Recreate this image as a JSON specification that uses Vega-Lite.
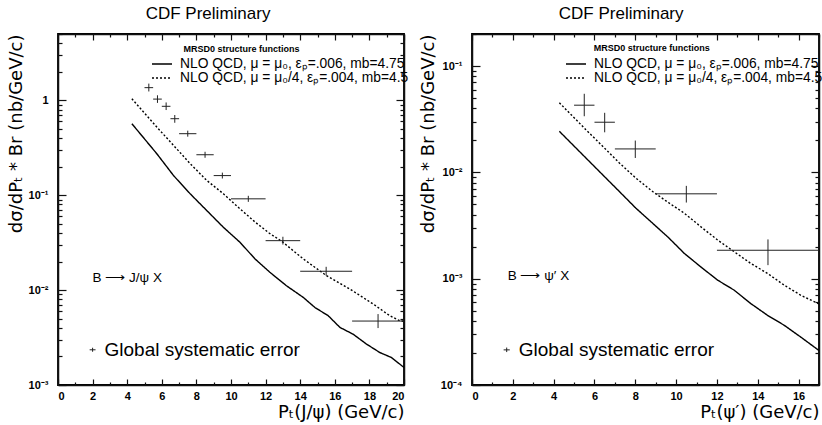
{
  "$schema": "https://vega.github.io/schema/vega-lite/v6.json",
  "padding": {"left": 6, "top": 4, "right": 0, "bottom": 0},
  "bounds": "flush",
  "spacing": 68,
  "resolve": {"scale": {"strokeDash": "independent"}, "legend": {"strokeDash": "independent"}},
  "config": {
    "font": "Liberation Sans",
    "view": {"stroke": "black", "strokeWidth": 1.8},
    "axis": {"grid": false, "labelColor": "black", "titleColor": "black", "labelFont": "Liberation Sans", "labelFontWeight": "bold", "labelFontSize": 11, "titleFont": "DejaVu Sans", "titleFontWeight": "normal", "titleFontSize": 18},
    "title": {"fontSize": 17, "fontWeight": "normal", "color": "black", "offset": 10, "anchor": "middle", "frame": "bounds", "font": "Liberation Sans"},
    "legend": {"orient": "none", "title": null, "symbolType": "stroke", "symbolSize": 400, "symbolStrokeWidth": 1.4, "symbolStrokeColor": "black", "labelFontSize": 13.8, "labelFont": "Liberation Sans", "labelColor": "black", "labelOffset": 7, "labelLimit": 400, "clipHeight": 14, "rowPadding": 0, "padding": 0}
  },
  "datasets": {
    "jpsi_curves": [
      {"model": "mu0", "pt": 4.27, "xsec": 0.567}, {"model": "mu0", "pt": 5.71, "xsec": 0.274}, {"model": "mu0", "pt": 6.68, "xsec": 0.161}, {"model": "mu0", "pt": 7.64, "xsec": 0.1035}, {"model": "mu0", "pt": 8.6, "xsec": 0.0689}, {"model": "mu0", "pt": 9.56, "xsec": 0.0459}, {"model": "mu0", "pt": 10.52, "xsec": 0.0319}, {"model": "mu0", "pt": 11.39, "xsec": 0.0213}, {"model": "mu0", "pt": 12.25, "xsec": 0.0154}, {"model": "mu0", "pt": 13.21, "xsec": 0.0111}, {"model": "mu0", "pt": 14.18, "xsec": 0.00837}, {"model": "mu0", "pt": 14.85, "xsec": 0.00656}, {"model": "mu0", "pt": 15.62, "xsec": 0.00537}, {"model": "mu0", "pt": 16.3, "xsec": 0.00404}, {"model": "mu0", "pt": 17.06, "xsec": 0.00343}, {"model": "mu0", "pt": 17.83, "xsec": 0.0027}, {"model": "mu0", "pt": 18.6, "xsec": 0.0022}, {"model": "mu0", "pt": 19.27, "xsec": 0.00195}, {"model": "mu0", "pt": 20, "xsec": 0.00153},
      {"model": "mu0/4", "pt": 4.27, "xsec": 1.04}, {"model": "mu0/4", "pt": 5.71, "xsec": 0.523}, {"model": "mu0/4", "pt": 6.68, "xsec": 0.335}, {"model": "mu0/4", "pt": 7.64, "xsec": 0.215}, {"model": "mu0/4", "pt": 8.6, "xsec": 0.143}, {"model": "mu0/4", "pt": 9.56, "xsec": 0.1035}, {"model": "mu0/4", "pt": 10.52, "xsec": 0.0718}, {"model": "mu0/4", "pt": 11.4, "xsec": 0.052}, {"model": "mu0/4", "pt": 12.2, "xsec": 0.04}, {"model": "mu0/4", "pt": 12.98, "xsec": 0.0322}, {"model": "mu0/4", "pt": 14.18, "xsec": 0.0213}, {"model": "mu0/4", "pt": 15.52, "xsec": 0.0142}, {"model": "mu0/4", "pt": 16.87, "xsec": 0.01027}, {"model": "mu0/4", "pt": 18.22, "xsec": 0.00713}, {"model": "mu0/4", "pt": 19.18, "xsec": 0.00537}, {"model": "mu0/4", "pt": 19.76, "xsec": 0.00475}, {"model": "mu0/4", "pt": 20, "xsec": 0.0047}
    ],
    "jpsi_points": [
      {"x": 5.25, "xlo": 5.0, "xhi": 5.5, "y": 1.36, "ylo": 1.24, "yhi": 1.5},
      {"x": 5.75, "xlo": 5.5, "xhi": 6.0, "y": 1.03, "ylo": 0.94, "yhi": 1.13},
      {"x": 6.25, "xlo": 6.0, "xhi": 6.5, "y": 0.865, "ylo": 0.79, "yhi": 0.95},
      {"x": 6.75, "xlo": 6.5, "xhi": 7.0, "y": 0.64, "ylo": 0.58, "yhi": 0.7},
      {"x": 7.5, "xlo": 7.0, "xhi": 8.0, "y": 0.445, "ylo": 0.414, "yhi": 0.479},
      {"x": 8.5, "xlo": 8.0, "xhi": 9.0, "y": 0.267, "ylo": 0.248, "yhi": 0.287},
      {"x": 9.5, "xlo": 9.0, "xhi": 10.0, "y": 0.161, "ylo": 0.15, "yhi": 0.173},
      {"x": 11.0, "xlo": 10.0, "xhi": 12.0, "y": 0.0916, "ylo": 0.0851, "yhi": 0.0986},
      {"x": 13.0, "xlo": 12.0, "xhi": 14.0, "y": 0.0332, "ylo": 0.0302, "yhi": 0.0365},
      {"x": 15.5, "xlo": 14.0, "xhi": 17.0, "y": 0.0158, "ylo": 0.0142, "yhi": 0.0176},
      {"x": 18.5, "xlo": 17.0, "xhi": 20.0, "y": 0.00472, "ylo": 0.00398, "yhi": 0.00559},
      {"x": 2.0, "xlo": 1.83, "xhi": 2.17, "y": 0.00235, "ylo": 0.00224, "yhi": 0.00247}
    ],
    "jpsi_text": [
      {"kind": "label", "x": 2.0, "y": 0.0135, "text": "B ⟶ J/ψ X"},
      {"kind": "sys", "x": 2.69, "y": 0.00235, "text": "Global systematic error"},
      {"kind": "header", "x": 7.25, "y": 3.45, "text": "MRSD0 structure functions"}
    ],
    "psi_curves": [
      {"model": "mu0", "pt": 4.28, "xsec": 0.0243}, {"model": "mu0", "pt": 5.58, "xsec": 0.01365}, {"model": "mu0", "pt": 6.4, "xsec": 0.00949}, {"model": "mu0", "pt": 7.22, "xsec": 0.0066}, {"model": "mu0", "pt": 8.03, "xsec": 0.0046}, {"model": "mu0", "pt": 8.85, "xsec": 0.00332}, {"model": "mu0", "pt": 9.62, "xsec": 0.00244}, {"model": "mu0", "pt": 10.4, "xsec": 0.00173}, {"model": "mu0", "pt": 11.21, "xsec": 0.00129}, {"model": "mu0", "pt": 12.03, "xsec": 0.00097}, {"model": "mu0", "pt": 12.85, "xsec": 0.000778}, {"model": "mu0", "pt": 13.66, "xsec": 0.000583}, {"model": "mu0", "pt": 14.48, "xsec": 0.000452}, {"model": "mu0", "pt": 15.3, "xsec": 0.000364}, {"model": "mu0", "pt": 16.11, "xsec": 0.000282}, {"model": "mu0", "pt": 17, "xsec": 0.000211},
      {"model": "mu0/4", "pt": 4.28, "xsec": 0.0451}, {"model": "mu0/4", "pt": 5.58, "xsec": 0.0252}, {"model": "mu0/4", "pt": 6.4, "xsec": 0.0176}, {"model": "mu0/4", "pt": 7.22, "xsec": 0.01225}, {"model": "mu0/4", "pt": 8.03, "xsec": 0.00883}, {"model": "mu0/4", "pt": 8.85, "xsec": 0.0066}, {"model": "mu0/4", "pt": 9.62, "xsec": 0.0052}, {"model": "mu0/4", "pt": 10.4, "xsec": 0.00413}, {"model": "mu0/4", "pt": 11.21, "xsec": 0.00308}, {"model": "mu0/4", "pt": 12.03, "xsec": 0.00231}, {"model": "mu0/4", "pt": 12.85, "xsec": 0.00179}, {"model": "mu0/4", "pt": 13.66, "xsec": 0.00139}, {"model": "mu0/4", "pt": 14.48, "xsec": 0.00112}, {"model": "mu0/4", "pt": 15.3, "xsec": 0.000868}, {"model": "mu0/4", "pt": 16.11, "xsec": 0.000698}, {"model": "mu0/4", "pt": 17, "xsec": 0.000578}
    ],
    "psi_points": [
      {"x": 5.5, "xlo": 5.0, "xhi": 6.0, "y": 0.0428, "ylo": 0.0337, "yhi": 0.0548},
      {"x": 6.5, "xlo": 6.0, "xhi": 7.0, "y": 0.0296, "ylo": 0.0238, "yhi": 0.0363},
      {"x": 8.0, "xlo": 7.0, "xhi": 9.0, "y": 0.0166, "ylo": 0.01365, "yhi": 0.0199},
      {"x": 10.5, "xlo": 9.0, "xhi": 12.0, "y": 0.00628, "ylo": 0.0052, "yhi": 0.00746},
      {"x": 14.5, "xlo": 12.0, "xhi": 17.0, "y": 0.00185, "ylo": 0.00134, "yhi": 0.00234},
      {"x": 1.7, "xlo": 1.55, "xhi": 1.85, "y": 0.000214, "ylo": 0.000204, "yhi": 0.000225}
    ],
    "psi_text": [
      {"kind": "label", "x": 1.75, "y": 0.00105, "text": "B ⟶ ψ′ X"},
      {"kind": "sys", "x": 2.29, "y": 0.000214, "text": "Global systematic error"},
      {"kind": "header", "x": 5.96, "y": 0.147, "text": "MRSD0 structure functions"}
    ]
  },
  "hconcat": [
    {
      "title": "CDF Preliminary",
      "width": 346,
      "height": 351,
      "resolve": {"axis": {"x": "independent", "y": "independent"}},
      "layer": [
        {
          "data": {"name": "jpsi_curves"},
          "mark": {"type": "line", "color": "black", "strokeWidth": 1.4, "clip": true},
          "encoding": {
            "x": {"field": "pt", "type": "quantitative", "scale": {"domain": [0, 20], "nice": false, "zero": false},
              "axis": {"orient": "bottom", "domainColor": "#111111", "domainWidth": 1.5, "tickColor": "#111111", "tickWidth": 1.2, "values": [0,1,2,3,4,5,6,7,8,9,10,11,12,13,14,15,16,17,18,19,20], "labelExpr": "datum.value % 2 == 0 ? datum.label : ''", "tickSize": {"condition": {"test": "datum.value % 2 == 0", "value": -6}, "value": -3}, "labelPadding": 11, "title": "Pₜ(J/ψ) (GeV/c)", "titleAnchor": "end", "titlePadding": 2}},
            "y": {"field": "xsec", "type": "quantitative", "scale": {"type": "log", "domain": [0.001, 5], "nice": false},
              "axis": {"orient": "left", "domainColor": "#111111", "domainWidth": 1.5, "tickColor": "#111111", "tickWidth": 1.2, "values": [0.001,0.002,0.003,0.004,0.005,0.006,0.007,0.008,0.009,0.01,0.02,0.03,0.04,0.05,0.06,0.07,0.08,0.09,0.1,0.2,0.3,0.4,0.5,0.6,0.7,0.8,0.9,1,2,3,4,5], "labelExpr": "datum.value == 1 ? '1' : datum.value == 0.1 ? '10⁻¹' : datum.value == 0.01 ? '10⁻²' : datum.value == 0.001 ? '10⁻³' : ''", "tickSize": {"condition": {"test": "indexof([0.001,0.01,0.1,1], datum.value) >= 0", "value": -8}, "value": -4}, "labelPadding": 18, "title": "dσ/dPₜ * Br (nb/GeV/c)", "titleAnchor": "end", "titlePadding": 3}},
            "strokeDash": {"field": "model", "type": "nominal", "scale": {"domain": ["mu0", "mu0/4"], "range": [[1, 0], [2, 2]]},
              "legend": {"legendX": 93, "legendY": 23, "labelExpr": "datum.value == 'mu0' ? 'NLO QCD, μ = μ₀, εₚ=.006, mb=4.75' : 'NLO QCD, μ = μ₀/4, εₚ=.004, mb=4.5'"}}
          }
        },
        {
          "data": {"name": "jpsi_points"},
          "mark": {"type": "rule", "color": "#222", "strokeWidth": 1},
          "encoding": {
            "x": {"field": "xlo", "type": "quantitative", "scale": {"domain": [0, 20], "nice": false, "zero": false},
              "axis": {"orient": "top", "domainColor": "#111111", "domainWidth": 1.5, "tickColor": "#111111", "tickWidth": 1.2, "values": [0,1,2,3,4,5,6,7,8,9,10,11,12,13,14,15,16,17,18,19,20], "labels": false, "title": null, "tickSize": {"condition": {"test": "datum.value % 2 == 0", "value": -6}, "value": -3}}},
            "x2": {"field": "xhi"},
            "y": {"field": "y", "type": "quantitative", "scale": {"type": "log", "domain": [0.001, 5], "nice": false},
              "axis": {"orient": "right", "domainColor": "#111111", "domainWidth": 1.5, "tickColor": "#111111", "tickWidth": 1.2, "values": [0.001,0.002,0.003,0.004,0.005,0.006,0.007,0.008,0.009,0.01,0.02,0.03,0.04,0.05,0.06,0.07,0.08,0.09,0.1,0.2,0.3,0.4,0.5,0.6,0.7,0.8,0.9,1,2,3,4,5], "labels": false, "title": null, "tickSize": {"condition": {"test": "indexof([0.001,0.01,0.1,1], datum.value) >= 0", "value": -8}, "value": -4}}}
          }
        },
        {
          "data": {"name": "jpsi_points"},
          "mark": {"type": "rule", "color": "#222", "strokeWidth": 1},
          "encoding": {
            "x": {"field": "x", "type": "quantitative", "scale": {"domain": [0, 20], "nice": false, "zero": false}, "axis": null},
            "y": {"field": "ylo", "type": "quantitative", "scale": {"type": "log", "domain": [0.001, 5], "nice": false}, "axis": null},
            "y2": {"field": "yhi"}
          }
        },
        {
          "data": {"name": "jpsi_text"},
          "transform": [{"filter": "datum.kind == 'label'"}],
          "mark": {"type": "text", "align": "left", "baseline": "middle", "fontSize": 13.5, "color": "black"},
          "encoding": {
            "x": {"field": "x", "type": "quantitative", "scale": {"domain": [0, 20], "nice": false, "zero": false}, "axis": null},
            "y": {"field": "y", "type": "quantitative", "scale": {"type": "log", "domain": [0.001, 5], "nice": false}, "axis": null},
            "text": {"field": "text"}
          }
        },
        {
          "data": {"name": "jpsi_text"},
          "transform": [{"filter": "datum.kind == 'sys'"}],
          "mark": {"type": "text", "align": "left", "baseline": "middle", "fontSize": 19, "color": "black"},
          "encoding": {
            "x": {"field": "x", "type": "quantitative", "scale": {"domain": [0, 20], "nice": false, "zero": false}, "axis": null},
            "y": {"field": "y", "type": "quantitative", "scale": {"type": "log", "domain": [0.001, 5], "nice": false}, "axis": null},
            "text": {"field": "text"}
          }
        },
        {
          "data": {"name": "jpsi_text"},
          "transform": [{"filter": "datum.kind == 'header'"}],
          "mark": {"type": "text", "align": "left", "baseline": "middle", "fontSize": 9, "fontWeight": "bold", "color": "black"},
          "encoding": {
            "x": {"field": "x", "type": "quantitative", "scale": {"domain": [0, 20], "nice": false, "zero": false}, "axis": null},
            "y": {"field": "y", "type": "quantitative", "scale": {"type": "log", "domain": [0.001, 5], "nice": false}, "axis": null},
            "text": {"field": "text"}
          }
        }
      ]
    },
    {
      "title": "CDF Preliminary",
      "width": 347,
      "height": 351,
      "resolve": {"axis": {"x": "independent", "y": "independent"}},
      "layer": [
        {
          "data": {"name": "psi_curves"},
          "mark": {"type": "line", "color": "black", "strokeWidth": 1.4, "clip": true},
          "encoding": {
            "x": {"field": "pt", "type": "quantitative", "scale": {"domain": [0, 17], "nice": false, "zero": false},
              "axis": {"orient": "bottom", "domainColor": "#111111", "domainWidth": 1.5, "tickColor": "#111111", "tickWidth": 1.2, "values": [0,1,2,3,4,5,6,7,8,9,10,11,12,13,14,15,16,17], "labelExpr": "datum.value % 2 == 0 ? datum.label : ''", "tickSize": {"condition": {"test": "datum.value % 2 == 0", "value": -6}, "value": -3}, "labelPadding": 11, "title": "Pₜ(ψ′) (GeV/c)", "titleAnchor": "end", "titlePadding": 2}},
            "y": {"field": "xsec", "type": "quantitative", "scale": {"type": "log", "domain": [0.0001, 0.2], "nice": false},
              "axis": {"orient": "left", "domainColor": "#111111", "domainWidth": 1.5, "tickColor": "#111111", "tickWidth": 1.2, "values": [0.0001,0.0002,0.0003,0.0004,0.0005,0.0006,0.0007,0.0008,0.0009,0.001,0.002,0.003,0.004,0.005,0.006,0.007,0.008,0.009,0.01,0.02,0.03,0.04,0.05,0.06,0.07,0.08,0.09,0.1,0.2], "labelExpr": "datum.value == 0.1 ? '10⁻¹' : datum.value == 0.01 ? '10⁻²' : datum.value == 0.001 ? '10⁻³' : datum.value == 0.0001 ? '10⁻⁴' : ''", "tickSize": {"condition": {"test": "indexof([0.0001,0.001,0.01,0.1], datum.value) >= 0", "value": -8}, "value": -4}, "labelPadding": 18, "title": "dσ/dPₜ * Br (nb/GeV/c)", "titleAnchor": "end", "titlePadding": 3}},
            "strokeDash": {"field": "model", "type": "nominal", "scale": {"domain": ["mu0", "mu0/4"], "range": [[1, 0], [2, 2]]},
              "legend": {"legendX": 93, "legendY": 23, "labelExpr": "datum.value == 'mu0' ? 'NLO QCD, μ = μ₀, εₚ=.006, mb=4.75' : 'NLO QCD, μ = μ₀/4, εₚ=.004, mb=4.5'"}}
          }
        },
        {
          "data": {"name": "psi_points"},
          "mark": {"type": "rule", "color": "#222", "strokeWidth": 1},
          "encoding": {
            "x": {"field": "xlo", "type": "quantitative", "scale": {"domain": [0, 17], "nice": false, "zero": false},
              "axis": {"orient": "top", "domainColor": "#111111", "domainWidth": 1.5, "tickColor": "#111111", "tickWidth": 1.2, "values": [0,1,2,3,4,5,6,7,8,9,10,11,12,13,14,15,16,17], "labels": false, "title": null, "tickSize": {"condition": {"test": "datum.value % 2 == 0", "value": -6}, "value": -3}}},
            "x2": {"field": "xhi"},
            "y": {"field": "y", "type": "quantitative", "scale": {"type": "log", "domain": [0.0001, 0.2], "nice": false},
              "axis": {"orient": "right", "domainColor": "#111111", "domainWidth": 1.5, "tickColor": "#111111", "tickWidth": 1.2, "values": [0.0001,0.0002,0.0003,0.0004,0.0005,0.0006,0.0007,0.0008,0.0009,0.001,0.002,0.003,0.004,0.005,0.006,0.007,0.008,0.009,0.01,0.02,0.03,0.04,0.05,0.06,0.07,0.08,0.09,0.1,0.2], "labels": false, "title": null, "tickSize": {"condition": {"test": "indexof([0.0001,0.001,0.01,0.1], datum.value) >= 0", "value": -8}, "value": -4}}}
          }
        },
        {
          "data": {"name": "psi_points"},
          "mark": {"type": "rule", "color": "#222", "strokeWidth": 1},
          "encoding": {
            "x": {"field": "x", "type": "quantitative", "scale": {"domain": [0, 17], "nice": false, "zero": false}, "axis": null},
            "y": {"field": "ylo", "type": "quantitative", "scale": {"type": "log", "domain": [0.0001, 0.2], "nice": false}, "axis": null},
            "y2": {"field": "yhi"}
          }
        },
        {
          "data": {"name": "psi_text"},
          "transform": [{"filter": "datum.kind == 'label'"}],
          "mark": {"type": "text", "align": "left", "baseline": "middle", "fontSize": 13.5, "color": "black"},
          "encoding": {
            "x": {"field": "x", "type": "quantitative", "scale": {"domain": [0, 17], "nice": false, "zero": false}, "axis": null},
            "y": {"field": "y", "type": "quantitative", "scale": {"type": "log", "domain": [0.0001, 0.2], "nice": false}, "axis": null},
            "text": {"field": "text"}
          }
        },
        {
          "data": {"name": "psi_text"},
          "transform": [{"filter": "datum.kind == 'sys'"}],
          "mark": {"type": "text", "align": "left", "baseline": "middle", "fontSize": 19, "color": "black"},
          "encoding": {
            "x": {"field": "x", "type": "quantitative", "scale": {"domain": [0, 17], "nice": false, "zero": false}, "axis": null},
            "y": {"field": "y", "type": "quantitative", "scale": {"type": "log", "domain": [0.0001, 0.2], "nice": false}, "axis": null},
            "text": {"field": "text"}
          }
        },
        {
          "data": {"name": "psi_text"},
          "transform": [{"filter": "datum.kind == 'header'"}],
          "mark": {"type": "text", "align": "left", "baseline": "middle", "fontSize": 9, "fontWeight": "bold", "color": "black"},
          "encoding": {
            "x": {"field": "x", "type": "quantitative", "scale": {"domain": [0, 17], "nice": false, "zero": false}, "axis": null},
            "y": {"field": "y", "type": "quantitative", "scale": {"type": "log", "domain": [0.0001, 0.2], "nice": false}, "axis": null},
            "text": {"field": "text"}
          }
        }
      ]
    }
  ]
}
